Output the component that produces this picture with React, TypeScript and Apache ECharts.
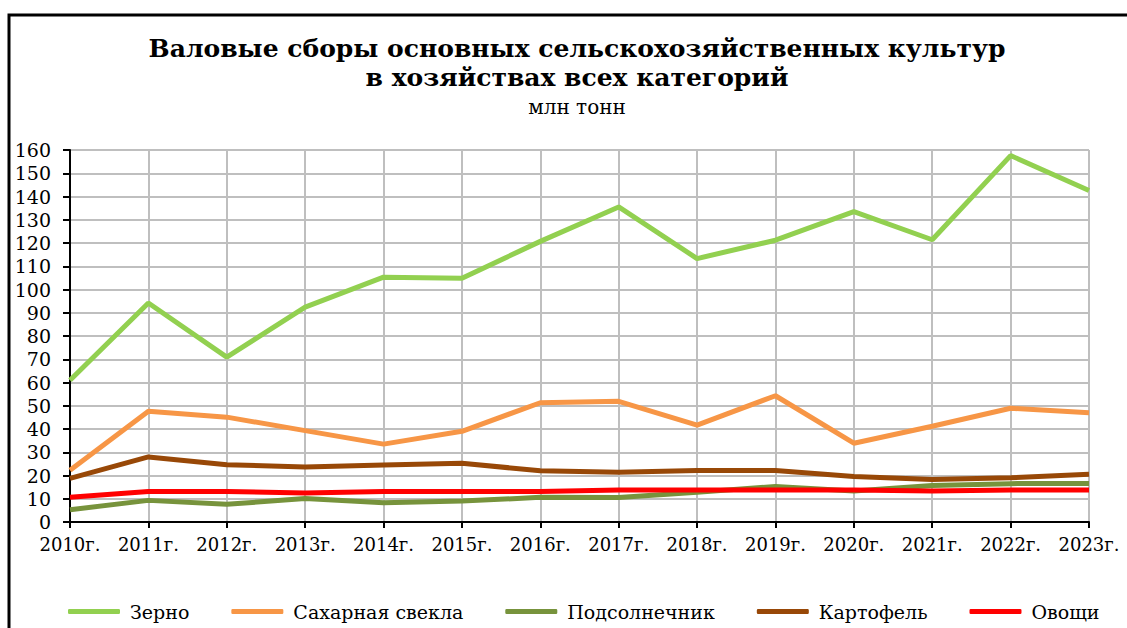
import React, { useEffect, useRef } from "react";
import * as echarts from "echarts";

const years = ["2010г.", "2011г.", "2012г.", "2013г.", "2014г.", "2015г.", "2016г.", "2017г.", "2018г.", "2019г.", "2020г.", "2021г.", "2022г.", "2023г."];
const grain = [61, 94.2, 70.9, 92.4, 105.3, 104.8, 120.7, 135.5, 113.3, 121.2, 133.5, 121.4, 157.6, 142.6];
const sugarBeet = [22.3, 47.6, 45.1, 39.3, 33.5, 39.0, 51.3, 51.9, 41.7, 54.3, 33.9, 41.2, 48.9, 47.0];
const sunflower = [5.3, 9.3, 7.6, 10.1, 8.3, 9.0, 10.6, 10.5, 12.8, 15.3, 13.3, 15.7, 16.5, 16.6];
const potato = [18.8, 28.0, 24.6, 23.7, 24.5, 25.3, 22.0, 21.4, 22.1, 22.1, 19.6, 18.3, 19.0, 20.5];
const vegetables = [10.6, 13.1, 13.1, 12.5, 13.1, 13.1, 13.1, 13.8, 13.8, 13.8, 13.8, 13.3, 13.8, 13.8];
const seriesNames = ["Зерно", "Сахарная свекла", "Подсолнечник", "Картофель", "Овощи"];
const seriesColors = ["#92D050", "#F79646", "#77933C", "#984807", "#FF0000"];

const FONT = "DejaVu Serif";

export default function App() {
  const ref = useRef<HTMLDivElement>(null);
  useEffect(() => {
    if (!ref.current) return;
    const chart = echarts.init(ref.current, undefined, { renderer: "svg" });
    const data = [grain, sugarBeet, sunflower, potato, vegetables];
    chart.setOption({
      animation: false,
      backgroundColor: "#ffffff",
      textStyle: { fontFamily: FONT },
      title: [
        {
          text: "Валовые сборы основных сельскохозяйственных культур\nв хозяйствах всех категорий",
          left: 572,
          top: 29,
          textAlign: "center",
          textStyle: { fontFamily: FONT, fontSize: 25, fontWeight: "bold", color: "#000", lineHeight: 29 },
        },
        {
          text: "млн тонн",
          left: 572,
          top: 92,
          textAlign: "center",
          textStyle: { fontFamily: FONT, fontSize: 20, fontWeight: "normal", color: "#000" },
        },
      ],
      graphic: [
        {
          type: "rect",
          shape: { x: 9, y: 15, width: 1300, height: 800 },
          style: { fill: "none", stroke: "#000", lineWidth: 3 },
          silent: true,
        },
      ],
      grid: { left: 70, right: 38, top: 150, bottom: 106 },
      legend: {
        left: 63,
        top: 597,
        itemWidth: 52,
        itemHeight: 5,
        itemGap: 42,
        icon: "roundRect",
        data: seriesNames,
        textStyle: { fontFamily: FONT, fontSize: 19, color: "#000", padding: [0, 0, 0, 5] },
      },
      xAxis: {
        type: "category",
        data: years,
        boundaryGap: false,
        axisLine: { lineStyle: { color: "#000", width: 2 } },
        axisTick: { show: true, interval: 0, length: 6, lineStyle: { color: "#000", width: 2 } },
        axisLabel: { interval: 0, margin: 13, fontFamily: FONT, fontSize: 18, color: "#000" },
        splitLine: { show: true, interval: 0, lineStyle: { color: "#BFBFBF", width: 2 } },
      },
      yAxis: {
        type: "value",
        min: 0,
        max: 160,
        interval: 10,
        axisLine: { show: true, lineStyle: { color: "#000", width: 2 } },
        axisTick: { show: true, length: 7, lineStyle: { color: "#000", width: 2 } },
        axisLabel: { margin: 19, fontFamily: FONT, fontSize: 19, color: "#000" },
        splitLine: { show: true, lineStyle: { color: "#BFBFBF", width: 2 } },
      },
      series: seriesNames.map((name, i) => ({
        name,
        type: "line",
        data: data[i],
        symbol: "none",
        smooth: false,
        color: seriesColors[i],
        lineStyle: { width: 5, color: seriesColors[i] },
      })),
    });
    return () => chart.dispose();
  }, []);
  return (
    <div
      ref={ref}
      style={{ position: "absolute", left: 0, top: 0, width: 1127, height: 628 }}
    />
  );
}
